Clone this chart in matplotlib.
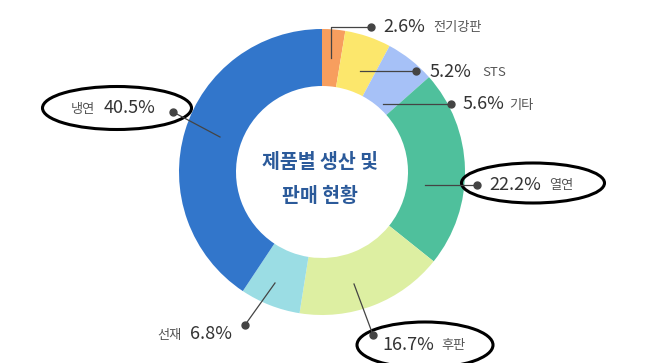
import numpy as np
import matplotlib.pyplot as plt
from matplotlib.patches import Ellipse

plt.rcParams['font.family'] = ['Noto Sans CJK KR', 'DejaVu Sans']

# Datos del grafico (sentido horario desde arriba)
categorias = ['전기강판', 'STS', '기타', '열연', '후판', '선재', '냉연']
valores = [2.6, 5.2, 5.6, 22.2, 16.7, 6.8, 40.5]
colores = ['#F79E5E', '#FCE76C', '#A6C1F7', '#4FC09C', '#DDEFA2', '#9BDDE4', '#3276CB']

W, H = 670, 363
fig = plt.figure(figsize=(W/100, H/100), dpi=100)
ax = fig.add_axes([0, 0, 1, 1])

# coordenadas en pixeles (y hacia abajo) -> datos
def p(x, y):
    return x, H - y

cx, cy = p(322, 172)
ax.pie(valores, colors=colores, startangle=90, counterclock=False, center=(cx, cy),
       radius=143, wedgeprops=dict(width=57, linewidth=0), frame=True)
ax.set_xlim(0, W)
ax.set_ylim(0, H)
ax.set_aspect('equal')
ax.axis('off')

# titulo central en dos lineas
for linea, yl in [('제품별 생산 및', 163), ('판매 현황', 196)]:
    ax.text(*p(320, yl), linea, ha='center', va='center', fontsize=14,
            fontweight='bold', color='#2B5A9A')

col_linea = '#444444'
col_txt = '#333333'

# (punta en el grafico, quiebre o None, punto) en pixeles
etiquetas = [
    ((331, 58), (331, 27), (371, 27)),
    ((360, 71), None, (416, 71)),
    ((383, 104), None, (451, 104)),
    ((425, 185), None, (477, 185)),
    ((354, 284), None, (373, 335)),
    ((275, 283), None, (245, 325)),
    ((220, 137), None, (173, 112)),
]
for (a, b, d) in etiquetas:
    pts = [a] + ([b] if b else []) + [d]
    xs = [p(*q)[0] for q in pts]
    ys = [p(*q)[1] for q in pts]
    ax.plot(xs, ys, color=col_linea, lw=0.9)
    ax.plot(*p(*d), 'o', color='#444444', ms=5)

def etiqueta(xn, y, num, nombre, nombre_x):
    ax.text(*p(xn, y), num, ha='left', va='center', fontsize=13, color=col_txt)
    ax.text(*p(nombre_x, y + 1), nombre, ha='left', va='center', fontsize=9.5, color='#555555')

etiqueta(383, 27, '2.6%', '전기강판', 433)
etiqueta(430, 72, '5.2%', 'STS', 482)
etiqueta(463, 104, '5.6%', '기타', 509)
etiqueta(489, 185, '22.2%', '열연', 549)
etiqueta(382, 345, '16.7%', '후판', 441)
etiqueta(190, 334, '6.8%', '선재', 157)
etiqueta(104, 108, '40.5%', '냉연', 71)

# elipses de resaltado
for (ex, ey, ew, eh) in [(117, 108, 149, 43), (533, 183, 143, 40), (425, 345, 136, 46)]:
    ax.add_patch(Ellipse(p(ex, ey), ew, eh, fill=False, edgecolor='black', lw=2.2))

fig.savefig('out.png', dpi=100)
